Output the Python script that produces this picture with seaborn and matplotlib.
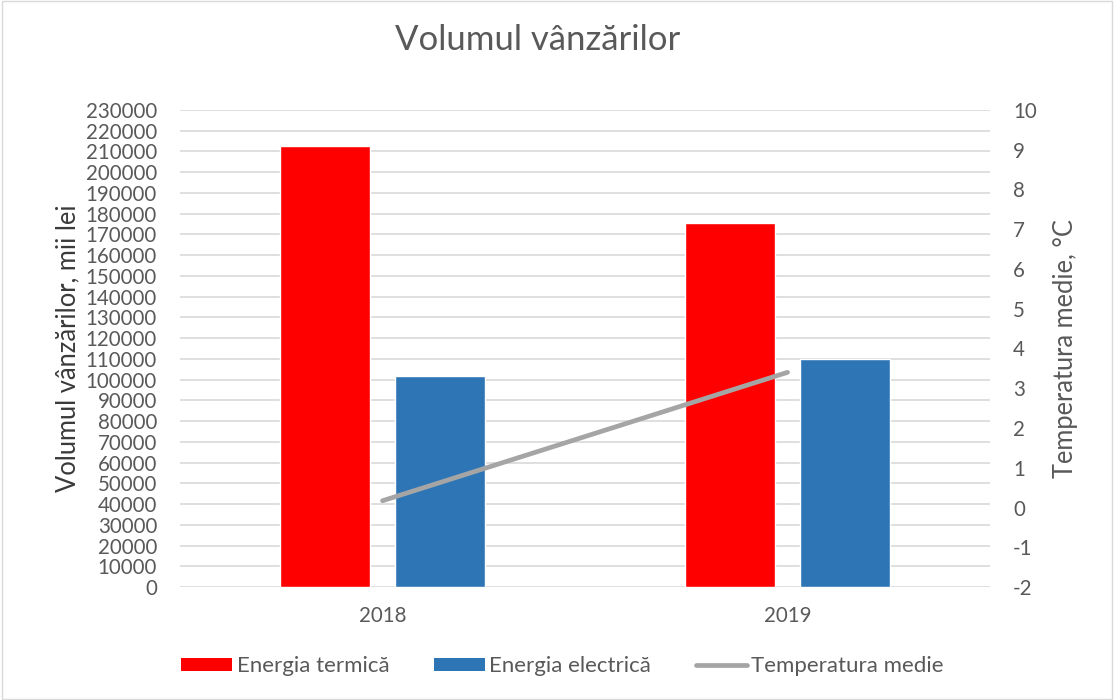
import pandas as pd
import matplotlib.pyplot as plt
import seaborn as sns
from matplotlib.patches import Patch, Rectangle
from matplotlib.lines import Line2D

years = ["2018", "2019"]
termica = [212600, 175400]
electrica = [101800, 110100]
temperatura = [0.17, 3.40]
series_names = ["Energia termică", "Energia electrică"]
line_name = "Temperatura medie"

red = "#ff0000"
blue = "#2e75b6"
grey = "#a5a5a5"
txt = "#595959"

df = pd.DataFrame({
    "year": years * 2,
    "series": [series_names[0]] * 2 + [series_names[1]] * 2,
    "value": termica + electrica,
})

sns.set_style("white")
plt.rcParams["font.family"] = ["Lato", "DejaVu Sans"]
plt.rcParams["axes.unicode_minus"] = False

fig = plt.figure(figsize=(11.14, 7), dpi=100)
ax = fig.add_axes([0.1616, 0.1614, 0.7271, 0.6815])

sns.barplot(data=df, x="year", y="value", hue="series", palette=[red, blue],
            width=0.57, gap=0.22, ax=ax, legend=False, saturation=1)

ax.set_xlim(-0.5, 1.5)
ax.set_ylim(0, 230000)
ax.set_yticks(range(0, 230001, 10000))
ax.set_yticklabels([str(v) for v in range(0, 230001, 10000)])
ax.grid(axis="y", color="#d9d9d9", linewidth=1.2)
ax.set_axisbelow(True)
for s in ax.spines.values():
    s.set_visible(False)
ax.tick_params(axis="y", length=0, labelsize=14.8, colors=txt, pad=16.5)
ax.tick_params(axis="x", length=0, labelsize=14.8, colors=txt, pad=14)
ax.set_xlabel("")
ax.set_ylabel("Volumul vânzărilor, mii lei", fontsize=18.4, color="#3a3a3a", labelpad=4)

ax2 = ax.twinx()
sns.lineplot(x=[0, 1], y=temperatura, ax=ax2, color=grey, linewidth=3.4,
             solid_capstyle="round", legend=False)
ax2.set_ylim(-2, 10)
ax2.set_yticks(range(-2, 11))
ax2.set_xlim(-0.5, 1.5)
for s in ax2.spines.values():
    s.set_visible(False)
ax2.tick_params(axis="y", length=0, labelsize=14.8, colors=txt, pad=16.5)
ax2.set_ylabel("Temperatura medie, °C", fontsize=18.4, color=txt, labelpad=12)

fig.text(0.4825, 0.943, "Volumul vânzărilor", ha="center", va="center",
         fontsize=25, color=txt)

handles = [Patch(facecolor=red, edgecolor="none"),
           Patch(facecolor=blue, edgecolor="none"),
           Line2D([0], [0], color=grey, linewidth=3.4, solid_capstyle="round")]
fig.legend(handles, series_names + [line_name], loc="center", ncol=3,
           bbox_to_anchor=(0.505, 0.048), frameon=False, fontsize=16,
           handlelength=2.3, handleheight=0.5, handletextpad=0.2,
           columnspacing=2.0, labelcolor=txt)

fig.patches.append(Rectangle((0.002, 0.002), 0.996, 0.996, transform=fig.transFigure,
                             fill=False, edgecolor="#d9d9d9", linewidth=1))

fig.savefig("out.png", dpi=100)
